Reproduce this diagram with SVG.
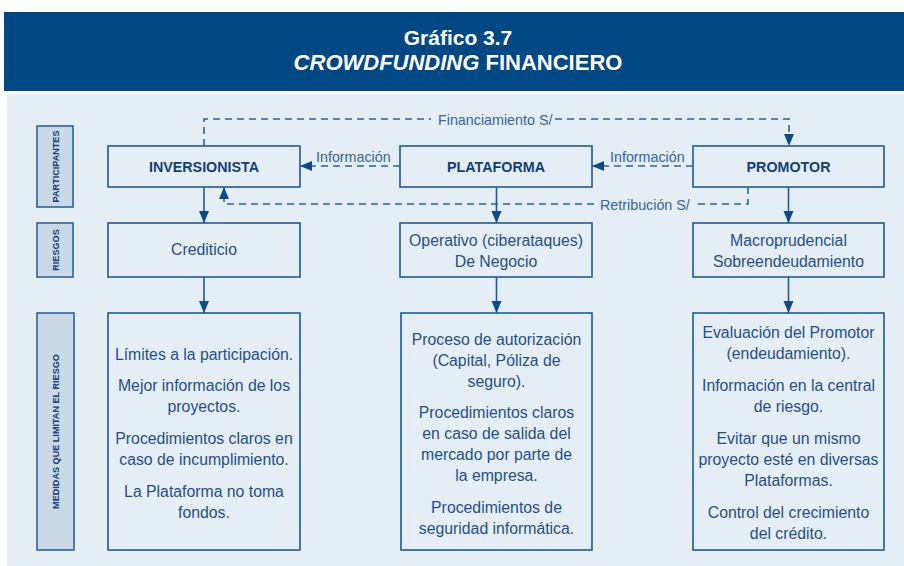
<svg xmlns="http://www.w3.org/2000/svg" width="904" height="566" viewBox="0 0 904 566">
<defs>
<style>
.box{fill:none;stroke:#1d5a97;stroke-width:1.6}
.side{fill:#cbd9e6;stroke:#2a62a0;stroke-width:1.6}
.t{font-family:"Liberation Sans",Arial,sans-serif;font-size:15.8px;fill:#1f5089;text-anchor:middle}
.h{font-family:"Liberation Sans",Arial,sans-serif;font-size:14.3px;font-weight:bold;fill:#123f77;text-anchor:middle}
.s{font-family:"Liberation Sans",Arial,sans-serif;font-size:9.1px;font-weight:bold;fill:#123f77;text-anchor:middle}
.lab{font-family:"Liberation Sans",Arial,sans-serif;font-size:14.3px;fill:#34679d}
.solid{fill:none;stroke:#1d5a97;stroke-width:1.6}
.dash{fill:none;stroke:#2a62a0;stroke-width:1.6;stroke-dasharray:7 5}
.title{font-family:"Liberation Sans",Arial,sans-serif;font-weight:bold;fill:#ffffff;text-anchor:middle}
</style>
<marker id="ah" markerUnits="userSpaceOnUse" markerWidth="13" markerHeight="11" refX="12" refY="5" orient="auto">
<path d="M0,0 L12,5 L0,10 z" fill="#0e4a8a"/>
</marker>
</defs>
<rect x="0" y="0" width="904" height="566" fill="#ffffff"/>
<rect x="7" y="94" width="897" height="472" fill="#e5edf5"/>
<g id="header">
<rect x="4" y="12" width="900" height="79" fill="#004883"/>
<text class="title" x="458" y="45" font-size="21">Gráfico 3.7</text>
<text class="title" x="458" y="70" font-size="22"><tspan font-style="italic">CROWDFUNDING</tspan> FINANCIERO</text>
</g>
<g id="side-participantes">
<rect class="side" x="37" y="126" width="36" height="81"/>
<text class="s" transform="translate(58.5,166.5) rotate(-90)">PARTICIPANTES</text>
</g>
<g id="side-riesgos">
<rect class="side" x="37" y="223" width="36" height="54"/>
<text class="s" transform="translate(58.5,250) rotate(-90)">RIESGOS</text>
</g>
<g id="side-medidas">
<rect class="side" x="37" y="313" width="37" height="237"/>
<text class="s" transform="translate(58.5,431.5) rotate(-90)">MEDIDAS QUE LIMITAN EL RIESGO</text>
</g>
<g id="inversionista">
<rect class="box" x="108" y="146" width="192" height="41"/>
<text class="h" x="204" y="172">INVERSIONISTA</text>
</g>
<g id="plataforma">
<rect class="box" x="400" y="146" width="192" height="41"/>
<text class="h" x="496" y="172">PLATAFORMA</text>
</g>
<g id="promotor">
<rect class="box" x="693" y="146" width="191" height="41"/>
<text class="h" x="788.5" y="172">PROMOTOR</text>
</g>
<g id="crediticio">
<rect class="box" x="108" y="223" width="192" height="54"/>
<text class="t" x="204" y="255">Crediticio</text>
</g>
<g id="operativo">
<rect class="box" x="400" y="223" width="192" height="54"/>
<text class="t" x="496" y="246">Operativo (ciberataques)</text>
<text class="t" x="496" y="267">De Negocio</text>
</g>
<g id="macroprudencial">
<rect class="box" x="693" y="223" width="191" height="54"/>
<text class="t" x="788.5" y="246">Macroprudencial</text>
<text class="t" x="788.5" y="267">Sobreendeudamiento</text>
</g>
<g id="medidas-inversionista">
<rect class="box" x="108" y="313" width="192" height="237"/>
<text class="t" x="204" y="360">Límites a la participación.</text>
<text class="t" x="204" y="391">Mejor información de los</text>
<text class="t" x="204" y="412">proyectos.</text>
<text class="t" x="204" y="444">Procedimientos claros en</text>
<text class="t" x="204" y="465">caso de incumplimiento.</text>
<text class="t" x="204" y="497">La Plataforma no toma</text>
<text class="t" x="204" y="518">fondos.</text>
</g>
<g id="medidas-plataforma">
<rect class="box" x="401" y="313" width="191" height="237"/>
<text class="t" x="496.5" y="345">Proceso de autorización</text>
<text class="t" x="496.5" y="366">(Capital, Póliza de</text>
<text class="t" x="496.5" y="387">seguro).</text>
<text class="t" x="496.5" y="418">Procedimientos claros</text>
<text class="t" x="496.5" y="439">en caso de salida del</text>
<text class="t" x="496.5" y="460">mercado por parte de</text>
<text class="t" x="496.5" y="481">la empresa.</text>
<text class="t" x="496.5" y="513">Procedimientos de</text>
<text class="t" x="496.5" y="534">seguridad informática.</text>
</g>
<g id="medidas-promotor">
<rect class="box" x="693" y="313" width="191" height="237"/>
<text class="t" x="788.5" y="338">Evaluación del Promotor</text>
<text class="t" x="788.5" y="359">(endeudamiento).</text>
<text class="t" x="788.5" y="391">Información en la central</text>
<text class="t" x="788.5" y="412">de riesgo.</text>
<text class="t" x="788.5" y="444">Evitar que un mismo</text>
<text class="t" x="788.5" y="465">proyecto esté en diversas</text>
<text class="t" x="788.5" y="486">Plataformas.</text>
<text class="t" x="788.5" y="518">Control del crecimiento</text>
<text class="t" x="788.5" y="539">del crédito.</text>
</g>
<g id="connectors">
<path class="solid" d="M204,187 V223" marker-end="url(#ah)"/>
<path class="solid" d="M204,277 V313" marker-end="url(#ah)"/>
<path class="solid" d="M496.5,187 V223" marker-end="url(#ah)"/>
<path class="solid" d="M496.5,277 V313" marker-end="url(#ah)"/>
<path class="solid" d="M788.5,187 V223" marker-end="url(#ah)"/>
<path class="solid" d="M788.5,277 V313" marker-end="url(#ah)"/>
<path class="dash" d="M204,146 V119 H431"/>
<path class="dash" d="M555,119 H789 V146" marker-end="url(#ah)"/>
<text class="lab" x="438" y="124.5">Financiamiento S/</text>
<path class="dash" d="M400,166 H300" marker-end="url(#ah)"/>
<text class="lab" x="316" y="161.5">Información</text>
<path class="dash" d="M693,166 H592" marker-end="url(#ah)"/>
<text class="lab" x="610" y="161.5">Información</text>
<path class="dash" d="M748,187 V204 H693"/>
<path class="dash" d="M594,204 H224 V187" marker-end="url(#ah)"/>
<text class="lab" x="600" y="209.5">Retribución S/</text>
</g>
</svg>
